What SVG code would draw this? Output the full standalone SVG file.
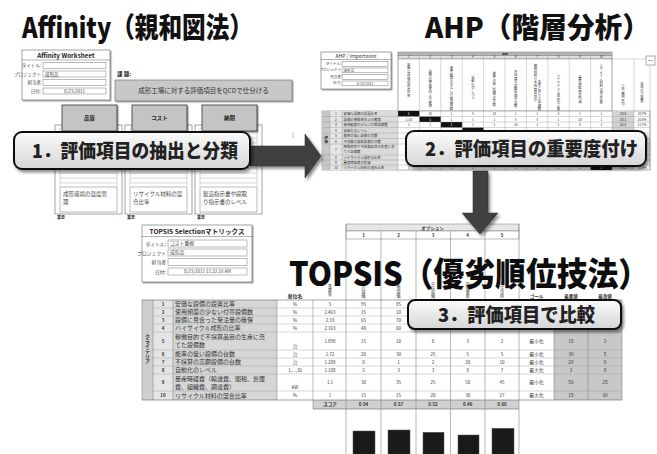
<svg xmlns="http://www.w3.org/2000/svg" width="657" height="454" viewBox="0 0 657 454">
<defs>
<style>
text{font-family:"Noto Sans CJK JP","Noto Sans",sans-serif;fill:#333}
.ttl{font-size:28px;font-weight:900;fill:#111}
.big{font-size:33px;font-weight:900;fill:#0d0d0d}
.co{font-size:19px;font-weight:900;fill:#222}
.lb{font-size:4.5px;fill:#444}
.xs{font-size:3.6px;fill:#444}
.s5{font-size:5.5px;fill:#444}
.s6{font-size:6px;fill:#333}
.c{text-anchor:middle}
.e{text-anchor:end}
.v{writing-mode:vertical-rl}
.b{font-weight:700}
.box{fill:#fff;stroke:#666;stroke-width:0.6}
.inp{fill:#fff;stroke:#777;stroke-width:0.5}
.ln{stroke:#999;stroke-width:0.4;fill:none}
.dl{stroke:#666;stroke-width:0.5;fill:none}
.callout{fill:url(#cg);stroke:#111;stroke-width:2}
.arrow{fill:#404040;stroke:#2a2a2a;stroke-width:0.5}
</style>
<linearGradient id="cg" x1="0" y1="0" x2="0" y2="1"><stop offset="0" stop-color="#fbfbfb"/><stop offset="1" stop-color="#d6d6d6"/></linearGradient>
<filter id="sh" x="-20%" y="-30%" width="150%" height="180%"><feDropShadow dx="2" dy="2.5" stdDeviation="1.6" flood-color="#000" flood-opacity="0.45"/></filter>
<filter id="ss" x="-20%" y="-20%" width="150%" height="150%"><feDropShadow dx="1.2" dy="1.2" stdDeviation="0.6" flood-color="#000" flood-opacity="0.4"/></filter>
</defs>
<rect width="657" height="454" fill="#fff"/>

<!-- ===== Affinity screenshot ===== -->
<g id="affinity-worksheet">
<rect class="box" x="22" y="50" width="88" height="50" filter="url(#ss)"/>
<text class="c b" x="66" y="57.6" style="font-size:6.3px;fill:#222">Affinity Worksheet</text>
<line class="dl" x1="22" y1="60" x2="110" y2="60"/>
<text class="lb e" x="41" y="67">タイトル:</text>
<text class="lb e" x="41" y="75.5">プロジェクト</text>
<text class="lb e" x="41" y="84">担当者</text>
<text class="lb e" x="41" y="92.5">日付:</text>
<rect class="inp" x="43" y="62.5" width="63" height="6"/>
<rect class="inp" x="43" y="71" width="63" height="6"/>
<rect class="inp" x="43" y="79.5" width="63" height="6"/>
<rect class="inp" x="43" y="88" width="63" height="6"/>
<text class="lb" x="45" y="75.6">成形品</text>
<text class="lb c" x="74.5" y="92.6">8/23/2011</text>
</g>
<g id="affinity-issue">
<text class="b" x="117" y="76" style="font-size:5.5px;fill:#222">課 題:</text>
<rect x="115" y="80" width="177" height="21" fill="#c8c8c8" stroke="#666" stroke-width="0.6" filter="url(#ss)"/>
<text class="c" x="203.5" y="93" style="font-size:6.5px;fill:#333">成形工場に対する評価項目をQCDで仕分ける</text>
<line x1="293" y1="132" x2="293" y2="138" stroke="#999" stroke-width="0.6"/>
</g>
<g id="affinity-col-quality">
<rect class="box" x="55" y="125" width="67" height="89"/>
<path class="ln" d="M60 128H117M60 133H117M60 138H117M60 143H117M60 148H117M60 153H117M60 158H117M60 163H117M60 168H117M60 173H117M60 178H117M60 183H117M60 128V186M117 128V186"/>
<rect class="inp" x="60" y="187" width="57" height="25"/>
<text class="s5" x="63" y="196">成形環境の温度管</text>
<text class="s5" x="63" y="204">理</text>
<text class="b" x="57" y="219" style="font-size:4px;fill:#333">重要</text>
<rect x="62" y="105" width="55" height="26" fill="#c4c4c4" stroke="#333" stroke-width="0.8" filter="url(#ss)"/>
<text class="c b" x="89.5" y="120" style="font-size:5.5px;fill:#222">品質</text>
</g>
<g id="affinity-col-cost">
<rect class="box" x="125" y="125" width="67" height="89"/>
<path class="ln" d="M130 128H187M130 133H187M130 138H187M130 143H187M130 148H187M130 153H187M130 158H187M130 163H187M130 168H187M130 173H187M130 178H187M130 183H187M130 128V186M187 128V186"/>
<rect class="inp" x="130" y="187" width="57" height="25"/>
<text class="s5" x="133" y="196">リサイクル材料の混</text>
<text class="s5" x="133" y="204">合比率</text>
<text class="b" x="127" y="219" style="font-size:4px;fill:#333">重要</text>
<rect x="132" y="105" width="55" height="26" fill="#c4c4c4" stroke="#333" stroke-width="0.8" filter="url(#ss)"/>
<text class="c b" x="159.5" y="120" style="font-size:5.5px;fill:#222">コスト</text>
</g>
<g id="affinity-col-delivery">
<rect class="box" x="195" y="125" width="67" height="89"/>
<path class="ln" d="M200 128H257M200 133H257M200 138H257M200 143H257M200 148H257M200 153H257M200 158H257M200 163H257M200 168H257M200 173H257M200 178H257M200 183H257M200 128V186M257 128V186"/>
<rect class="inp" x="200" y="187" width="57" height="25"/>
<text class="s5" x="203" y="196">製造指示書や段取</text>
<text class="s5" x="203" y="204">り指示書のレベル</text>
<text class="b" x="197" y="219" style="font-size:4px;fill:#333">重要</text>
<rect x="202" y="105" width="55" height="26" fill="#c4c4c4" stroke="#333" stroke-width="0.8" filter="url(#ss)"/>
<text class="c b" x="229.5" y="120" style="font-size:5.5px;fill:#222">納期</text>
</g>

<!-- ===== AHP screenshot ===== -->
<g id="ahp-importance">
<rect class="box" x="321" y="52" width="70" height="37" filter="url(#ss)"/>
<text class="c" x="356" y="57.6" style="font-size:5px;fill:#333">AHP / Importance</text>
<line class="dl" x1="321" y1="59.5" x2="391" y2="59.5"/>
<text class="xs e" x="341" y="64.7">タイトル:</text>
<text class="xs e" x="341" y="71.2">プロジェクト</text>
<text class="xs e" x="341" y="77.7">担当者</text>
<text class="xs e" x="341" y="84.2">日付:</text>
<rect class="inp" x="342" y="61.5" width="46" height="4.8"/>
<rect class="inp" x="342" y="68" width="46" height="4.8"/>
<rect class="inp" x="342" y="74.5" width="46" height="4.8"/>
<rect class="inp" x="342" y="81" width="46" height="4.8"/>
<text class="xs" x="343.5" y="71.6">成形品</text>
<text class="xs c" x="365" y="84.6">8/23/2011</text>
</g>
<g id="ahp-matrix">
<rect x="398" y="52" width="214" height="3.5" fill="#b5b5b5" stroke="#666" stroke-width="0.4"/>
<text class="c b" x="505" y="54.8" style="font-size:2.8px;fill:#222">評価</text>
<rect x="398" y="55.5" width="214" height="3.5" fill="#e0e0e0" stroke="#666" stroke-width="0.4"/>
<g class="xs c" style="font-size:3px">
<text x="408.7" y="58.3">1</text><text x="430.1" y="58.3">2</text><text x="451.5" y="58.3">3</text><text x="472.9" y="58.3">4</text><text x="494.3" y="58.3">5</text><text x="515.7" y="58.3">6</text><text x="537.1" y="58.3">7</text><text x="558.5" y="58.3">8</text><text x="579.9" y="58.3">9</text><text x="601.3" y="58.3">10</text>
</g>
<rect x="398" y="59" width="214" height="52" fill="#fff" stroke="#666" stroke-width="0.4"/>
<g class="xs v" style="font-size:3.4px;fill:#333">
<text x="408.7" y="63">安価な設備の設置比率</text>
<text x="430.1" y="70">設備の稼働率向上の確保</text>
<text x="451.5" y="66">使用頻度の少ない付帯設備数</text>
<text x="472.9" y="76">自動化のレベル</text>
<text x="494.3" y="72">能率の低い設備の台数</text>
<text x="515.7" y="70">不採算の高額設備の台数</text>
<text x="535.5" y="64">稼働目的で不採算品目の</text>
<text x="539.5" y="80">生産に充てた設備数</text>
<text x="558.5" y="74">ハイサイクル成形の比率</text>
<text x="579.9" y="76">量産時経費の削減</text>
<text x="601.3" y="64">リサイクル材料の混合比率</text>
</g>
<g class="xs v" style="font-size:3.4px;fill:#333">
<text x="623" y="84">重み(幾何平均)</text>
<text x="642" y="82">正規化重要度</text>
</g>
<rect x="322" y="111" width="328" height="59" fill="#fff" stroke="#666" stroke-width="0.5"/>
<rect x="322" y="111" width="8" height="59" fill="#c8c8c8"/>
<rect x="330" y="111" width="12" height="59" fill="#e6e6e6"/>
<rect x="342" y="111" width="56" height="59" fill="#dadada"/>
<rect x="612" y="111" width="22" height="59" fill="#d2d2d2"/>
<rect x="398" y="111" width="21.4" height="5.5" fill="#111"/>
<rect x="419.4" y="116.5" width="21.4" height="5.5" fill="#111"/>
<rect x="440.8" y="122" width="21.4" height="5.5" fill="#111"/>
<rect x="462.2" y="127.5" width="21.4" height="5.5" fill="#111"/>
<rect x="590.6" y="165" width="21.4" height="5" fill="#111"/>
<path class="ln" d="M322 116.5H650M322 122H650M322 127.5H650M322 133H650M322 138.5H650M322 144H650M322 155H650M322 160H650M322 165H650"/>
<path class="ln" d="M330 111V170M342 111V170M398 52V170M419.4 55.5V170M440.8 55.5V170M462.2 55.5V170M483.6 55.5V170M505 55.5V170M526.4 55.5V170M547.8 55.5V170M569.2 55.5V170M590.6 55.5V170M612 52V170M634 59V170M650 59V170M612 59H650"/>
<text class="v b" x="326" y="136" style="font-size:3.6px;fill:#333">評価</text>
<g class="xs c" style="font-size:3.2px">
<text x="336" y="115">1</text><text x="336" y="120.5">2</text><text x="336" y="126">3</text><text x="336" y="131.5">4</text><text x="336" y="137">5</text><text x="336" y="142.5">6</text><text x="336" y="150.7">7</text><text x="336" y="159">8</text><text x="336" y="164">9</text><text x="336" y="169">10</text>
</g>
<g class="xs" style="font-size:3.4px">
<text x="343.5" y="115">安価な設備の設置比率</text>
<text x="343.5" y="120.5">設備の稼働率向上の確保</text>
<text x="343.5" y="126">使用頻度の少ない付帯設備数</text>
<text x="343.5" y="131.5">自動化のレベル</text>
<text x="343.5" y="137">能率の低い設備の台数</text>
<text x="343.5" y="142.5">不採算の高額設備の台数</text>
<text x="343.5" y="148.3">稼働目的で不採算品目の生産に充</text>
<text x="343.5" y="153.3">てた設備数</text>
<text x="343.5" y="159">ハイサイクル成形の比率</text>
<text x="343.5" y="164">量産時経費の削減</text>
<text x="343.5" y="169">リサイクル材料の混合比率</text>
</g>
<g class="xs c" style="font-size:3.2px">
<text x="408.7" y="115" style="fill:#fff">1</text><text x="430.1" y="115">10</text><text x="451.5" y="115">1</text><text x="472.9" y="115">5</text><text x="494.3" y="115">10</text><text x="515.7" y="115">1</text><text x="537.1" y="115">1</text><text x="558.5" y="115">5</text><text x="579.9" y="115">1</text><text x="601.3" y="115">1</text><text x="623" y="115">20.3</text><text x="642" y="115">10.7%</text>
<text x="408.7" y="120.5">1/10</text><text x="430.1" y="120.5" style="fill:#fff">1</text><text x="451.5" y="120.5">1</text><text x="472.9" y="120.5">1</text><text x="494.3" y="120.5">1</text><text x="515.7" y="120.5">5</text><text x="537.1" y="120.5">5</text><text x="558.5" y="120.5">1</text><text x="579.9" y="120.5">10</text><text x="601.3" y="120.5">1</text><text x="623" y="120.5">20.1</text><text x="642" y="120.5">10.5%</text>
<text x="408.7" y="126">1</text><text x="430.1" y="126">1</text><text x="451.5" y="126" style="fill:#fff">1</text><text x="472.9" y="126">1</text><text x="494.3" y="126">1</text><text x="515.7" y="126">10</text><text x="537.1" y="126">1</text><text x="558.5" y="126">1</text><text x="579.9" y="126">5</text><text x="601.3" y="126">1</text><text x="623" y="126">22.3</text><text x="642" y="126">11.7%</text>
<text x="408.7" y="169">1</text><text x="430.1" y="169">1</text><text x="451.5" y="169">1</text><text x="472.9" y="169">1</text><text x="494.3" y="169">1</text><text x="515.7" y="169">1</text><text x="537.1" y="169">1</text><text x="558.5" y="169">1</text><text x="579.9" y="169">1</text><text x="601.3" y="169" style="fill:#fff">1</text><text x="623" y="169">19.2</text><text x="642" y="169">10.0%</text>
</g>
<rect x="646" y="56" width="9" height="9" fill="#fff" stroke="#777" stroke-width="0.6"/>
<line x1="648" y1="60.5" x2="653" y2="60.5" stroke="#777" stroke-width="0.6"/>
</g>

<!-- ===== TOPSIS screenshot ===== -->
<g id="topsis-selection">
<rect class="box" x="142" y="225" width="110" height="57" filter="url(#ss)"/>
<text class="c b" x="197" y="233.6" style="font-size:6.6px;fill:#222">TOPSIS Selectionマトリックス</text>
<line class="dl" x1="142" y1="236.5" x2="252" y2="236.5"/>
<text class="e" x="166" y="245.5" style="font-size:4.8px;fill:#444">タイトル:</text>
<text class="e" x="166" y="254.5" style="font-size:4.8px;fill:#444">プロジェクト</text>
<text class="e" x="166" y="264" style="font-size:4.8px;fill:#444">担当者</text>
<text class="e" x="166" y="273.5" style="font-size:4.8px;fill:#444">日付:</text>
<rect class="inp" x="168" y="240" width="79" height="7"/>
<rect class="inp" x="168" y="249" width="79" height="7"/>
<rect class="inp" x="168" y="258.5" width="79" height="7"/>
<rect class="inp" x="168" y="268" width="79" height="7"/>
<text x="170" y="245.3" style="font-size:4.8px;fill:#444">コスト重視</text>
<text x="170" y="254.3" style="font-size:4.8px;fill:#444">成形品</text>
<text class="c" x="207.5" y="273.3" style="font-size:4.5px;fill:#444">8/23/2011  11:22:16 AM</text>
</g>
<g id="topsis-matrix">
<rect x="346" y="224" width="173" height="7" fill="#e6e6e6" stroke="#777" stroke-width="0.5"/>
<text class="c b" x="432.5" y="229.6" style="font-size:4.5px;fill:#333">オプション</text>
<rect x="346" y="231" width="173" height="8" fill="#fff" stroke="#777" stroke-width="0.5"/>
<g class="c b" style="font-size:4.5px">
<text x="363.5" y="236.6">1</text><text x="398.5" y="236.6">2</text><text x="433" y="236.6">3</text><text x="467.7" y="236.6">4</text><text x="502" y="236.6">5</text>
</g>
<g class="v" style="font-size:4px;fill:#444">
<text x="363.5" y="282">現行設備</text><text x="398.5" y="282">新規設備</text><text x="433" y="282">中古設備</text><text x="467.7" y="282">設備更新</text><text x="502" y="282">外注活用</text>
<text x="330" y="284">重要度</text>
</g>
<text class="c b" x="295" y="298" style="font-size:5px;fill:#333">単位名</text>
<g class="c b" style="font-size:4.5px;fill:#333">
<text x="536.5" y="297.5">ゴール</text><text x="571" y="297.5">最悪値</text><text x="605" y="297.5">最良値</text>
</g>
<rect x="142" y="300" width="11" height="100" fill="#cfcfcf"/>
<rect x="153" y="300" width="20" height="100" fill="#e4e4e4"/>
<rect x="173" y="300" width="104" height="100" fill="#d6d6d6"/>
<rect x="554" y="300" width="68" height="100" fill="#c8c8c8"/>
<rect x="313" y="400" width="206" height="9" fill="#d0d0d0"/>
<path d="M142 300H622M142 400H622M313 409H519" stroke="#666" stroke-width="0.6" fill="none"/>
<path class="ln" d="M153 308H622M153 316H622M153 324H622M153 332H622M153 350H622M153 358H622M153 366H622M153 374H622M153 391H622"/>
<path d="M142 300V400M153 300V400M173 300V400M277 300V400M313 300V409M554 300V400M588 300V400M622 300V400" stroke="#777" stroke-width="0.5" fill="none"/>
<path d="M346 224V454M381 231V454M416 231V454M450.5 231V454M485 231V454M519 224V454" stroke="#888" stroke-width="0.6" fill="none"/>
<text class="v b" x="147.5" y="334" style="font-size:5px;fill:#333">クライテリア</text>
<g class="c b" style="font-size:4.5px">
<text x="163" y="305.6">1</text><text x="163" y="313.6">2</text><text x="163" y="321.6">3</text><text x="163" y="329.6">4</text><text x="163" y="342.6">5</text><text x="163" y="355.6">6</text><text x="163" y="363.6">7</text><text x="163" y="371.6">8</text><text x="163" y="384.1">9</text><text x="163" y="397.1">10</text>
</g>
<g class="s6">
<text x="175" y="306.2">安価な設備の設置比率</text>
<text x="175" y="314.2">使用頻度の少ない付帯設備数</text>
<text x="175" y="322.2">設備に見合った受注量の確保</text>
<text x="175" y="330.2">ハイサイクル成形の比率</text>
<text x="175" y="339">稼働目的で不採算品目の生産に充</text>
<text x="175" y="347">てた設備数</text>
<text x="175" y="356.2">能率の低い設備の台数</text>
<text x="175" y="364.2">不採算の高額設備の台数</text>
<text x="175" y="372.2">自動化のレベル</text>
<text x="175" y="381">量産時経費（輸送費、関税、倉庫</text>
<text x="175" y="389">費、組織費、調達費）</text>
<text x="175" y="397.7">リサイクル材料の混合比率</text>
</g>
<g class="c" style="font-size:4.5px;fill:#444">
<text x="295" y="305.6">%</text><text x="295" y="313.6">%</text><text x="295" y="321.6">%</text><text x="295" y="329.6">%</text><text x="295" y="348">台</text><text x="295" y="355.6">台</text><text x="295" y="363.6">台</text><text x="295" y="371.6">1,...,10</text><text x="295" y="389">kW</text><text x="295" y="397.1">%</text>
<text x="330" y="305.6">5</text><text x="330" y="313.6">2.463</text><text x="330" y="321.6">2.33</text><text x="330" y="329.6">2.163</text><text x="330" y="342.6">1.898</text><text x="330" y="355.6">1.72</text><text x="330" y="363.6">1.288</text><text x="330" y="371.6">1.188</text><text x="330" y="384.1">1.1</text><text x="330" y="397.1">1</text>
<text x="363.5" y="305.6">95</text><text x="398.5" y="305.6">85</text>
<text x="363.5" y="313.6">15</text><text x="398.5" y="313.6">10</text>
<text x="363.5" y="321.6">65</text><text x="398.5" y="321.6">70</text>
<text x="363.5" y="329.6">40</text><text x="398.5" y="329.6">60</text>
<text x="363.5" y="342.6">15</text><text x="398.5" y="342.6">10</text><text x="433" y="342.6">8</text><text x="467.7" y="342.6">3</text><text x="502" y="342.6">2</text>
<text x="363.5" y="355.6">20</text><text x="398.5" y="355.6">30</text><text x="433" y="355.6">25</text><text x="467.7" y="355.6">5</text><text x="502" y="355.6">5</text>
<text x="363.5" y="363.6">0</text><text x="398.5" y="363.6">1</text><text x="433" y="363.6">2</text><text x="467.7" y="363.6">20</text><text x="502" y="363.6">10</text>
<text x="363.5" y="371.6">2</text><text x="398.5" y="371.6">3</text><text x="433" y="371.6">3</text><text x="467.7" y="371.6">8</text><text x="502" y="371.6">7</text>
<text x="363.5" y="384.1">30</text><text x="398.5" y="384.1">35</text><text x="433" y="384.1">25</text><text x="467.7" y="384.1">50</text><text x="502" y="384.1">45</text>
<text x="363.5" y="397.1">15</text><text x="398.5" y="397.1">15</text><text x="433" y="397.1">20</text><text x="467.7" y="397.1">30</text><text x="502" y="397.1">27</text>
</g>
<g class="c" style="font-size:4.8px;fill:#444">
<text x="536.5" y="342.8">最小化</text><text x="571" y="342.8">15</text><text x="605" y="342.8">2</text>
<text x="536.5" y="355.8">最小化</text><text x="571" y="355.8">30</text><text x="605" y="355.8">5</text>
<text x="536.5" y="363.8">最小化</text><text x="571" y="363.8">20</text><text x="605" y="363.8">0</text>
<text x="536.5" y="371.8">最大化</text><text x="571" y="371.8">2</text><text x="605" y="371.8">8</text>
<text x="536.5" y="384.3">最小化</text><text x="571" y="384.3">50</text><text x="605" y="384.3">25</text>
<text x="536.5" y="397.3">最大化</text><text x="571" y="397.3">15</text><text x="605" y="397.3">30</text>
</g>
<g class="c b" style="font-size:4.5px;fill:#333">
<text x="330" y="406.1">スコア</text><text x="363.5" y="406.1">0.54</text><text x="398.5" y="406.1">0.57</text><text x="433" y="406.1">0.52</text><text x="467.7" y="406.1">0.46</text><text x="502" y="406.1">0.60</text>
</g>
<g fill="#1a1a1a" stroke="#555" stroke-width="0.5">
<rect x="353" y="431" width="22" height="24"/>
<rect x="388" y="430" width="22" height="25"/>
<rect x="423" y="432.3" width="21" height="22.7"/>
<rect x="458" y="435" width="21" height="20"/>
<rect x="492" y="428.3" width="22" height="26.7"/>
</g>
</g>

<!-- ===== Titles ===== -->
<g id="titles">
<text class="ttl" x="22" y="38" textLength="231" lengthAdjust="spacingAndGlyphs">Affinity（親和図法）</text>
<text class="ttl" x="425" y="38" textLength="225" lengthAdjust="spacingAndGlyphs">AHP（階層分析）</text>
<text class="big" x="289" y="286" textLength="360" lengthAdjust="spacingAndGlyphs">TOPSIS（優劣順位技法）</text>
</g>

<!-- ===== Connectors ===== -->
<g id="connectors" filter="url(#sh)">
<path class="arrow" d="M250 146H305V134L321 156L305 178V166H250Z"/>
<path class="arrow" d="M473 171H488V213H498L480 234L462 213H473Z"/>
</g>

<!-- ===== Step callouts ===== -->
<g id="step1">
<rect class="callout" x="14" y="132" width="236" height="37" rx="8" filter="url(#sh)"/>
<text class="co" x="32" y="157.5" textLength="206" lengthAdjust="spacingAndGlyphs">1．評価項目の抽出と分類</text>
</g>
<g id="step2">
<rect class="callout" x="406" y="131" width="240" height="35" rx="8" filter="url(#sh)"/>
<text class="co" x="425" y="155.5" textLength="213" lengthAdjust="spacingAndGlyphs">2．評価項目の重要度付け</text>
</g>
<g id="step3">
<rect class="callout" x="408" y="300" width="213" height="29" rx="7" filter="url(#sh)"/>
<text class="co" x="438" y="321.5" textLength="157" lengthAdjust="spacingAndGlyphs">3．評価項目で比較</text>
</g>
</svg>
